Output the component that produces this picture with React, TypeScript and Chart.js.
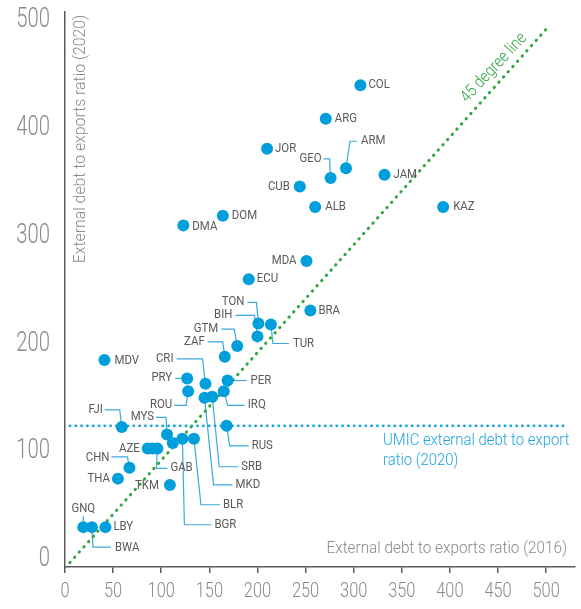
import { useEffect, useRef } from "react";
import { Chart, registerables } from "chart.js";

Chart.register(...registerables);

// ---- data ----
const countries = ["COL", "ARG", "JOR", "ARM", "GEO", "JAM", "CUB", "ALB", "KAZ", "DOM", "DMA", "MDA", "ECU", "BRA", "TON", "BIH", "TUR", "GTM", "ZAF", "PER", "IRQ", "MDV", "CRI", "PRY", "ROU", "SRB", "MKD", "FJI", "RUS", "MYS", "", "BGR", "BLR", "AZE", "", "GAB", "CHN", "THA", "TKM", "GNQ", "BWA", "LBY"];
const ratio2016 = [307, 271, 210, 292, 276, 332, 244, 260, 393, 164, 123, 251, 191, 255, 201, 200, 214, 179, 166, 169, 165, 41, 146, 127, 128, 153, 145, 59, 168, 106, 112, 122, 134, 86, 91, 96, 67, 55, 109, 19, 28, 42];
const ratio2020 = [440, 409, 381, 363, 354, 357, 346, 327, 327, 319, 310, 277, 260, 231, 219, 207, 218, 198, 188, 166, 156, 185, 163, 168, 156, 151, 150, 123, 124, 116, 108, 112, 112, 103, 103, 103, 85, 75, 69, 30, 30, 30];
const xTicks = [0, 50, 100, 150, 200, 250, 300, 350, 400, 450, 500];
const yTicks = [0, 100, 200, 300, 400, 500];
const diagX = [5, 500];
const diagY = [-3, 492];
const umicValue = 124;
const umicX = [5, 518];

// ---- label layout (pixel offsets from each dot) ----
type Lab = { code: string; tx: number; ty: number; align: CanvasTextAlign; leader?: number[][] };
const labelLayout: Lab[] = [
  { code: "COL", tx: 8, ty: 0, align: "left" },
  { code: "ARG", tx: 9, ty: 0, align: "left" },
  { code: "JOR", tx: 8, ty: 0, align: "left" },
  { code: "ARM", tx: 15, ty: -27, align: "left", leader: [[0, 0], [4, -27], [11, -27]] },
  { code: "GEO", tx: -9, ty: -19, align: "right", leader: [[0, 0], [-1, -19], [-7, -19]] },
  { code: "JAM", tx: 9, ty: 0, align: "left" },
  { code: "CUB", tx: -10, ty: 0, align: "right" },
  { code: "ALB", tx: 10, ty: 0, align: "left" },
  { code: "KAZ", tx: 10, ty: 0, align: "left" },
  { code: "DOM", tx: 9, ty: 0, align: "left" },
  { code: "DMA", tx: 9, ty: 2, align: "left" },
  { code: "MDA", tx: -10, ty: 0, align: "right" },
  { code: "ECU", tx: 8, ty: 0, align: "left" },
  { code: "BRA", tx: 8, ty: 0, align: "left" },
  { code: "TON", tx: -14, ty: -21, align: "right", leader: [[0, 0], [-2, -21], [-11, -21]] },
  { code: "BIH", tx: -25, ty: -21, align: "right", leader: [[0, 0], [-3, -21], [-22, -21]] },
  { code: "TUR", tx: 22, ty: 19, align: "left", leader: [[0, 0], [2, 19], [18, 19]] },
  { code: "GTM", tx: -19, ty: -17, align: "right", leader: [[0, 0], [-3, -17], [-16, -17]] },
  { code: "ZAF", tx: -20, ty: -15, align: "right", leader: [[0, 0], [-2, -15], [-17, -15]] },
  { code: "PER", tx: 23, ty: 0, align: "left", leader: [[0, 0], [19, 0]] },
  { code: "IRQ", tx: 24, ty: 14, align: "left", leader: [[0, 0], [4, 14], [21, 14]] },
  { code: "MDV", tx: 10, ty: 1, align: "left" },
  { code: "CRI", tx: -32, ty: -25, align: "right", leader: [[0, 0], [-3, -25], [-29, -25]] },
  { code: "PRY", tx: -15, ty: 0, align: "right", leader: [[0, 0], [-12, 0]] },
  { code: "ROU", tx: -16, ty: 14, align: "right", leader: [[0, 0], [-2, 14], [-14, 14]] },
  { code: "SRB", tx: 29, ty: 70, align: "left", leader: [[0, 0], [7, 70], [26, 70]] },
  { code: "MKD", tx: 31, ty: 87, align: "left", leader: [[0, 0], [9, 87], [28, 87]] },
  { code: "FJI", tx: -19, ty: -17, align: "right", leader: [[0, 0], [-2, -17], [-17, -17]] },
  { code: "RUS", tx: 25, ty: 20, align: "left", leader: [[0, 0], [3, 20], [22, 20]] },
  { code: "MYS", tx: -13, ty: -17, align: "right", leader: [[0, 0], [-1, -17], [-11, -17]] },
  { code: "BGR", tx: 32, ty: 86, align: "left", leader: [[0, 0], [2, 86], [29, 86]] },
  { code: "BLR", tx: 29, ty: 66, align: "left", leader: [[0, 0], [7, 66], [26, 66]] },
  { code: "AZE", tx: -8, ty: 1, align: "right" },
  { code: "GAB", tx: 13, ty: 20, align: "left", leader: [[0, 0], [-1, 20], [10, 20]] },
  { code: "CHN", tx: -20, ty: -10, align: "right", leader: [[0, 0], [-2, -11], [-18, -11]] },
  { code: "THA", tx: -8, ty: 0, align: "right" },
  { code: "TKM", tx: -11, ty: 1, align: "right" },
  { code: "GNQ", tx: 0, ty: -18, align: "center", leader: [[0, 0], [0, -11]] },
  { code: "BWA", tx: 23, ty: 21, align: "left", leader: [[0, 0], [1, 20], [19, 20]] },
  { code: "LBY", tx: 8, ty: 0, align: "left" },
];

const DOT = "#009edb";
const LEADER = "#3aa9de";
const GREEN = "#33a645";
const UMIC = "#1ea5de";
const AXIS = "#5a5a5a";
const GREY = "#8a8a8a";
const LABEL = "#595959";

function drawText(
  ctx: CanvasRenderingContext2D,
  text: string,
  x: number,
  y: number,
  font: string,
  color: string,
  align: CanvasTextAlign,
  sx = 1,
  rot = 0
) {
  ctx.save();
  ctx.translate(x, y);
  if (rot) ctx.rotate(rot);
  ctx.scale(sx, 1);
  ctx.font = font;
  ctx.fillStyle = color;
  ctx.textAlign = align;
  ctx.textBaseline = "middle";
  ctx.fillText(text, 0, 0);
  ctx.restore();
}

const annotPlugin = {
  id: "annot",
  beforeDatasetsDraw(chart: any) {
    const { ctx } = chart;
    const xs = chart.scales.x;
    const ys = chart.scales.y;
    ctx.save();
    ctx.strokeStyle = LEADER;
    ctx.lineWidth = 1.2;
    labelLayout.forEach((l) => {
      if (!l.leader) return;
      const i = countries.indexOf(l.code);
      const px = xs.getPixelForValue(ratio2016[i]);
      const py = ys.getPixelForValue(ratio2020[i]);
      ctx.beginPath();
      l.leader.forEach(([dx, dy], k) => {
        if (k === 0) ctx.moveTo(px + dx, py + dy);
        else ctx.lineTo(px + dx, py + dy);
      });
      ctx.stroke();
    });
    ctx.restore();
  },
  afterDatasetsDraw(chart: any) {
    const { ctx } = chart;
    const xs = chart.scales.x;
    const ys = chart.scales.y;
    // country labels
    labelLayout.forEach((l) => {
      const i = countries.indexOf(l.code);
      const px = xs.getPixelForValue(ratio2016[i]);
      const py = ys.getPixelForValue(ratio2020[i]);
      drawText(ctx, l.code, px + l.tx, py + l.ty, "400 12px Roboto", LABEL, l.align, 0.95);
    });
    // tick labels
    xTicks.forEach((v) => {
      drawText(ctx, String(v), xs.getPixelForValue(v), 592, "300 21px Roboto", GREY, "center", 0.78);
    });
    yTicks.forEach((v) => {
      drawText(ctx, String(v), 50, ys.getPixelForValue(v), "300 27px Roboto", GREY, "right", 0.75);
    });
    // axis titles
    drawText(ctx, "External debt to exports ratio (2016)", 567, 549, "300 17px Roboto", GREY, "right", 0.9);
    drawText(ctx, "External debt to exports ratio (2020)", 81, 139, "300 17px Roboto", GREY, "center", 0.93, -Math.PI / 2);
    // 45 degree label
    drawText(ctx, "45 degree line", 494, 68, "300 17px Roboto", GREEN, "center", 0.85, (-47 * Math.PI) / 180);
    // UMIC label
    drawText(ctx, "UMIC external debt to export", 383, 441, "300 16px Roboto", UMIC, "left", 0.93);
    drawText(ctx, "ratio (2020)", 383, 461, "300 16px Roboto", UMIC, "left", 0.93);
  },
};

export default function App() {
  const ref = useRef<HTMLCanvasElement>(null);
  useEffect(() => {
    const canvas = ref.current!;
    const chart = new Chart(canvas, {
      type: "scatter",
      data: {
        datasets: [
          {
            data: countries.map((c, i) => ({ x: ratio2016[i], y: ratio2020[i] })),
            backgroundColor: DOT,
            pointRadius: 6,
            pointHoverRadius: 6,
            borderWidth: 0,
          } as any,
          {
            type: "line",
            data: diagX.map((x, i) => ({ x, y: diagY[i] })),
            borderColor: GREEN,
            borderWidth: 3,
            borderDash: [0.5, 6.5],
            borderCapStyle: "round",
            pointRadius: 0,
            fill: false,
            tension: 0,
          } as any,
          {
            type: "line",
            data: umicX.map((x) => ({ x, y: umicValue })),
            borderColor: UMIC,
            borderWidth: 2.6,
            borderDash: [0.4, 5.4],
            borderCapStyle: "round",
            pointRadius: 0,
            fill: false,
            tension: 0,
          } as any,
        ],
      },
      options: {
        responsive: false,
        animation: false,
        events: [],
        layout: { padding: { top: 12, right: 3, left: 0, bottom: 0 } },
        plugins: { legend: { display: false }, tooltip: { enabled: false } },
        scales: {
          x: {
            type: "linear",
            min: 0,
            max: 530,
            afterFit: (s: any) => {
              s.height = 42;
            },
            afterBuildTicks: (s: any) => {
              s.ticks = xTicks.map((v) => ({ value: v }));
            },
            grid: { display: true, drawOnChartArea: false, drawTicks: true, tickLength: 6, color: AXIS, lineWidth: 1.5 },
            border: { display: true, color: AXIS, width: 1.5 },
            ticks: { display: false },
          },
          y: {
            type: "linear",
            min: -7,
            max: 508,
            afterFit: (s: any) => {
              s.width = 65;
            },
            afterBuildTicks: (s: any) => {
              s.ticks = yTicks.map((v) => ({ value: v }));
            },
            grid: { display: false },
            border: { display: true, color: AXIS, width: 1.5 },
            ticks: { display: false },
          },
        },
      } as any,
      plugins: [annotPlugin],
    });
    return () => chart.destroy();
  }, []);
  return (
    <div style={{ position: "absolute", left: 0, top: 0, width: 581, height: 609 }}>
      <canvas ref={ref} width={581} height={609} style={{ display: "block" }} />
    </div>
  );
}
